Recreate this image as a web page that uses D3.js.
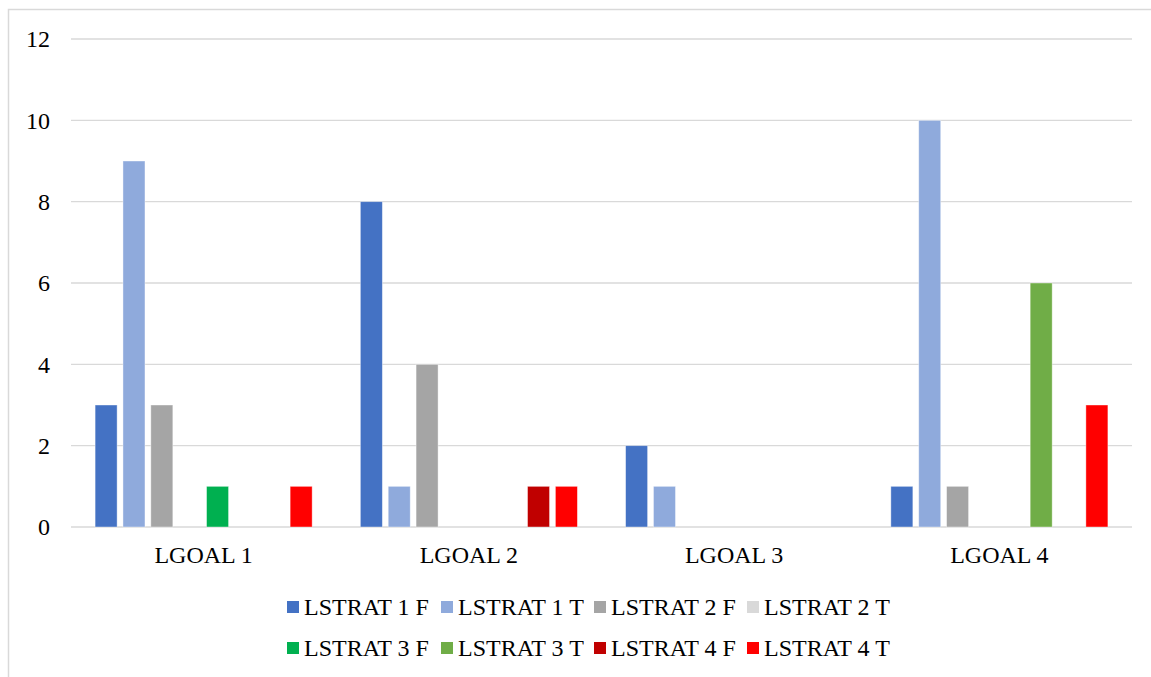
<!DOCTYPE html>
<html><head><meta charset="utf-8">
<script src="https://cdn.jsdelivr.net/npm/d3@7"></script>
<style>html,body{margin:0;padding:0;background:#fff}svg{display:block}
svg text{font-family:"Liberation Serif","Times New Roman",Times,serif !important;}</style>
</head><body>
<script>
const categories = ["LGOAL 1", "LGOAL 2", "LGOAL 3", "LGOAL 4"];
const seriesNames = ["LSTRAT 1 F","LSTRAT 1 T","LSTRAT 2 F","LSTRAT 2 T","LSTRAT 3 F","LSTRAT 3 T","LSTRAT 4 F","LSTRAT 4 T"];
const seriesColors = ["#4472C4","#8FAADC","#A5A5A5","#D9D9D9","#00B050","#70AD47","#C00000","#FF0000"];
const lstrat1F = [3, 8, 2, 1];
const lstrat1T = [9, 1, 1, 10];
const lstrat2F = [3, 4, 0, 1];
const lstrat2T = [0, 0, 0, 0];
const lstrat3F = [1, 0, 0, 0];
const lstrat3T = [0, 0, 0, 6];
const lstrat4F = [0, 1, 0, 0];
const lstrat4T = [1, 1, 0, 3];
const yTicks = [0, 2, 4, 6, 8, 10, 12];

const seriesValues = [lstrat1F, lstrat1T, lstrat2F, lstrat2T, lstrat3F, lstrat3T, lstrat4F, lstrat4T];

(function () {
const W = 1151, H = 677;
const svg = d3.select("body").append("svg").attr("width", W).attr("height", H);
const fs = 24;

// outer chart border
svg.append("rect").attr("x", 8.5).attr("y", 9.5).attr("width", W + 10).attr("height", H + 10)
  .attr("fill", "none").attr("stroke", "#d9d9d9").attr("stroke-width", 1.5);

const pLeft = 71, pRight = 1132, pTop = 39, pBottom = 527;
const y = d3.scaleLinear().domain([0, 12]).range([pBottom, pTop]);
const x0 = d3.scaleBand().domain(categories).range([pLeft, pRight]).padding(0);
const x1 = d3.scaleBand().domain(seriesNames).range([0, x0.bandwidth()]).paddingInner(0.21).paddingOuter(0.865);

// gridlines
svg.append("g").selectAll("line").data(yTicks).join("line")
  .attr("x1", pLeft).attr("x2", pRight)
  .attr("y1", d => y(d)).attr("y2", d => y(d))
  .attr("stroke", "#d9d9d9").attr("stroke-width", 1.3);

// y axis labels
const yAxis = d3.axisLeft(y).tickValues(yTicks).tickSize(0).tickPadding(0);
const gy = svg.append("g").attr("transform", `translate(50,0)`).call(yAxis);
gy.select(".domain").remove();
gy.attr("font-family", null).attr("font-size", null);
gy.selectAll("text").attr("font-size", fs).attr("fill", "#000").attr("dy", "0.33em");

// x axis labels
const xAxis = d3.axisBottom(x0).tickSize(0).tickPadding(0);
const gx = svg.append("g").attr("transform", `translate(0,${pBottom})`).call(xAxis);
gx.select(".domain").remove();
gx.attr("font-family", null).attr("font-size", null);
gx.selectAll("text").attr("font-size", fs).attr("fill", "#000").attr("y", 28).attr("dy", "0.33em");

// bars
const data = [];
categories.forEach((c, ci) => {
  seriesNames.forEach((s, si) => {
    data.push({cat: c, ser: s, val: seriesValues[si][ci], color: seriesColors[si]});
  });
});
svg.append("g").selectAll("rect").data(data.filter(d => d.val > 0)).join("rect")
  .attr("x", d => x0(d.cat) + x1(d.ser))
  .attr("width", x1.bandwidth())
  .attr("y", d => y(d.val))
  .attr("height", d => y(0) - y(d.val))
  .attr("fill", d => d.color)
  .attr("stroke", "#ffffff").attr("stroke-opacity", 0.5).attr("stroke-width", 0.8);

// legend
const legendX = [287, 441, 594, 747];
const legendY = [607, 648];
const lg = svg.append("g");
seriesNames.forEach((s, i) => {
  const lx = legendX[i % 4], ly = legendY[Math.floor(i / 4)];
  lg.append("rect").attr("x", lx).attr("y", ly - 6).attr("width", 12).attr("height", 12).attr("fill", seriesColors[i]);
  lg.append("text").attr("x", lx + 17).attr("y", ly).attr("dy", "0.33em")
    .attr("font-size", fs).attr("fill", "#000").text(s);
});
})();
</script>
</body></html>
